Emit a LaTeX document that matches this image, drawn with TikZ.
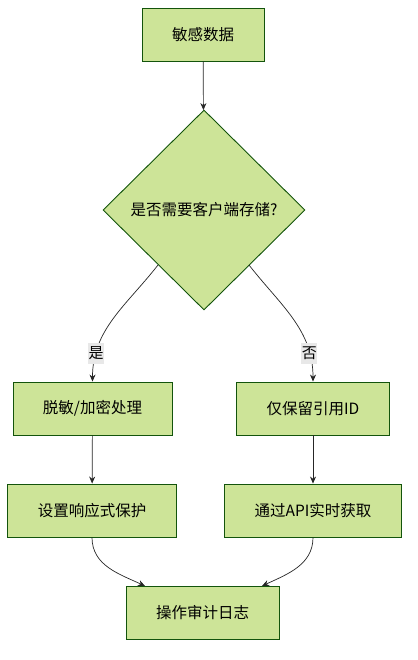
\documentclass[tikz,border=0pt]{standalone}
\usepackage{fontspec}
\setmainfont{Noto Sans CJK SC}
\usetikzlibrary{shapes.geometric,arrows.meta}
\definecolor{boxfill}{HTML}{CDE498}
\definecolor{boxline}{HTML}{13540C}
\definecolor{labfill}{HTML}{E8E8E8}
\begin{document}
\begin{tikzpicture}[x=1pt,y=-1pt,
  box/.style={draw=boxline,fill=boxfill,line width=0.9pt,inner xsep=30pt,
    minimum height=53pt,font=\fontsize{15.5}{18}\selectfont},
  ask/.style={diamond,draw=boxline,fill=boxfill,line width=0.9pt,inner sep=0pt,
    minimum width=202pt,minimum height=200pt,font=\fontsize{15.5}{18}\selectfont},
  arr/.style={draw=black!85,line width=0.7pt,-{Stealth[length=7pt,width=6pt]}},
  lab/.style={fill=labfill,inner xsep=0.5pt,inner ysep=4pt,font=\fontsize{15}{18}\selectfont}]
\useasboundingbox (0,0) rectangle (417,660);
% nodes
\node[box] (data) at (203,34.5) {敏感数据};
\node[ask] (q) at (204,210) {是否需要客户端存储?};
\node[box] (desens) at (92.5,408.5) {脱敏/加密处理};
\node[box] (refid) at (313,408.5) {仅保留引用ID};
\node[box] (protect) at (92,510.5) {设置响应式保护};
\node[box] (api) at (313,510.5) {通过API实时获取};
\node[box] (audit) at (202.5,612.5) {操作审计日志};
% connectors
\coordinate (qleft) at (158,265);
\coordinate (qright) at (249,265);
\coordinate (auditl) at (145,586);
\coordinate (auditr) at (262,586);
\draw[arr] (data) -- (q);
\draw[arr] (qleft) to[out=-128,in=90] node[lab,pos=0.8] {是} (desens.north);
\draw[arr] (qright) to[out=-52,in=90] node[lab,pos=0.8] {否} (refid.north);
\draw[arr] (desens) -- (protect);
\draw[arr] (refid) -- (api);
\draw[arr] (protect.south) to[out=-90,in=155] (auditl);
\draw[arr] (api.south) to[out=-90,in=25] (auditr);
\end{tikzpicture}
\end{document}
